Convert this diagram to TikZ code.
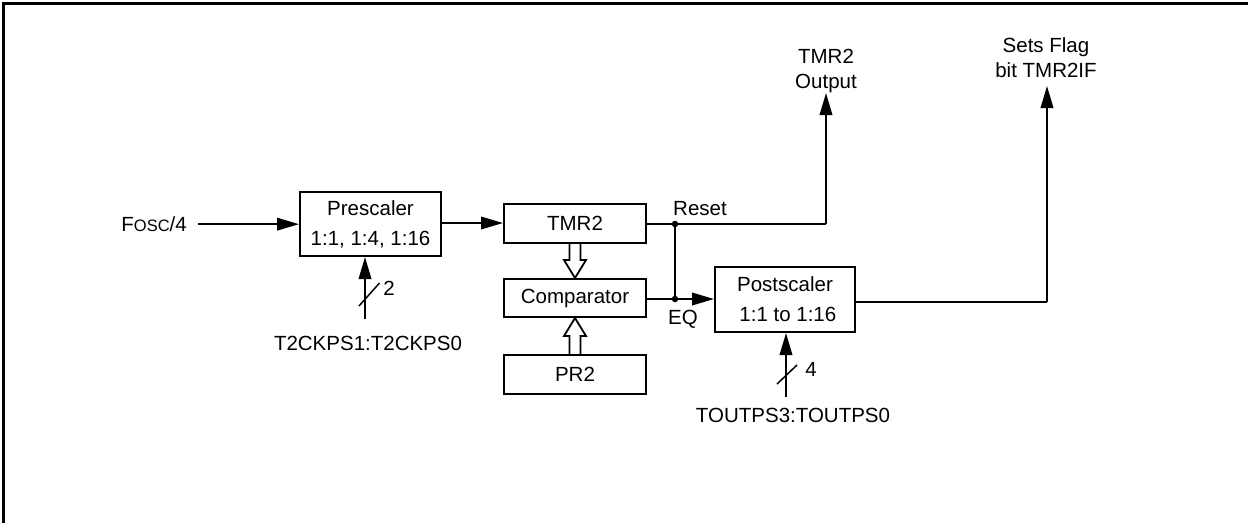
\documentclass[tikz,border=0pt]{standalone}
\usepackage{fontspec}
\setmainfont{Liberation Sans}
\usetikzlibrary{arrows.meta,calc}
\tikzset{
  blk/.style={draw, line width=2pt, inner sep=0pt, font=\fontsize{20.5}{30}\selectfont, align=center},
  lbl/.style={inner sep=0pt, font=\fontsize{20.5}{25}\selectfont, align=center},
  wire/.style={line width=2pt},
  arr/.style={line width=2pt, -{Triangle[length=22pt,width=12.5pt]}},
  hollow/.style={line width=1.8pt, line join=miter},
  slash/.style={line width=1.5pt},
  dotc/.style={fill, circle, inner sep=0pt, minimum size=6.5pt},
}
\begin{document}
\begin{tikzpicture}[x=1pt,y=-1pt]
\useasboundingbox (0,0) rectangle (1248,523);
% frame (top and left)
\draw[line width=2.5pt] (3.5,523) -- (3.5,3.5) -- (1248,3.5);

% blocks
\node[blk, minimum width=141pt, minimum height=64pt] (pre) at (370.5,224) {Prescaler\\1:1, 1:4, 1:16};
\node[blk, minimum width=142pt, minimum height=39pt] (tmr) at (575,223.5) {TMR2};
\node[blk, minimum width=142pt, minimum height=38pt] (cmp) at (575,298) {Comparator};
\node[blk, minimum width=142pt, minimum height=39pt] (pr) at (575,374.5) {PR2};
\node[blk, minimum width=140pt, minimum height=65pt] (post) at (785,299.5) {Postscaler\\\ 1:1 to 1:16};

% labels
\node[lbl, anchor=base east, inner xsep=11pt] (fosc) at (198,231.5) {F{\fontsize{16.5}{16.5}\selectfont OSC}/4};
\node[lbl, anchor=base] (t2ck) at (368,350) {T2CKPS1:T2CKPS0};
\node[lbl, anchor=base] (toutps) at (793,422) {TOUTPS3:TOUTPS0};
\node[lbl, anchor=base] (two) at (389,295.5) {2};
\node[lbl, anchor=base] (four) at (811,376) {4};
\node[lbl, anchor=base west] (reset) at (673,215) {Reset};
\node[lbl, anchor=base west] (eq) at (668,324.5) {EQ};
\node[lbl, anchor=base] (tout) at (826,88) {TMR2\\Output};
\node[lbl, anchor=base] (flag) at (1046,77) {Sets Flag\\bit TMR2IF};

% coordinates
\coordinate (pin1) at (365,319);
\coordinate (pin2) at (786,397);
\coordinate (d1) at (675,224);
\coordinate (d2) at (675,299);
\coordinate (o1) at (826,93);
\coordinate (o2) at (1047,86);

% connectors
\draw[arr] (fosc.east) -- (pre.west |- fosc.east);
\draw[arr] (pre.east |- 0,223) -- (tmr.west |- 0,223);
\draw[arr] (pin1) -- (pin1 |- pre.south);
\draw[slash] (359,306) -- (379.5,283);
\draw[arr] (pin2) -- (pin2 |- post.south);
\draw[slash] (777,384) -- (797,365);

\draw[wire] (tmr.east |- d1) -- (d1) -- (o1 |- d1);
\draw[arr] (o1 |- d1) -- (o1);
\draw[wire] (d1) -- (d2);
\draw[arr] (cmp.east |- d2) -- (post.west |- d2);
\draw[wire] (post.east |- 0,302) -- (o2 |- 0,302);
\draw[arr] (o2 |- 0,302) -- (o2);
\node[dotc] at (d1) {};
\node[dotc] at (d2) {};

% hollow arrows
\draw[hollow] ($(tmr.south)+(-5.5,0)$) -- ++(0,16) -- ++(-5.5,0) -- ($(cmp.north)+(0,0)$) -- ($(tmr.south)+(11,16)$) -- ++(-5.5,0) -- ($(tmr.south)+(5.5,0)$);
\draw[hollow] ($(pr.north)+(-5.5,0)$) -- ++(0,-18) -- ++(-5.5,0) -- ($(cmp.south)+(0,0)$) -- ($(pr.north)+(11,-18)$) -- ++(-5.5,0) -- ($(pr.north)+(5.5,0)$);
\end{tikzpicture}
\end{document}
